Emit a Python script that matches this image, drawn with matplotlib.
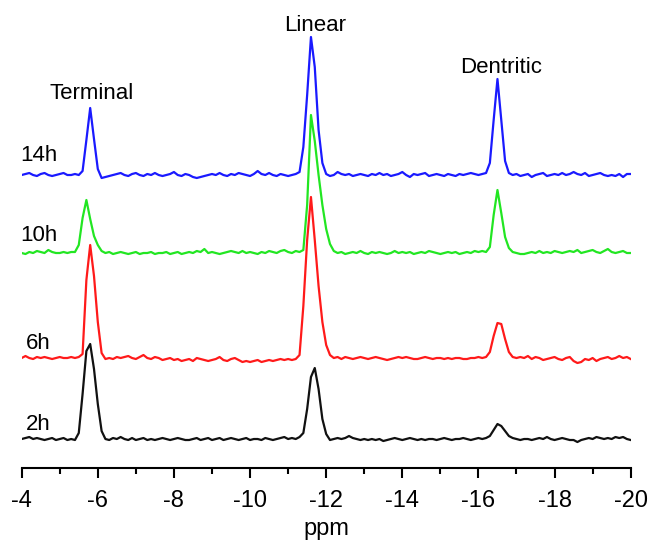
import numpy as np
import matplotlib
matplotlib.use("Agg")
import matplotlib.pyplot as plt
from matplotlib.ticker import MultipleLocator

plt.rcParams['font.family'] = ['Liberation Sans', 'DejaVu Sans']
plt.rcParams['axes.unicode_minus'] = False

# chemical shift grid, 0.1 ppm steps from -4 to -20
ppm = np.linspace(-4.0, -20.0, 161)

# intensities (a.u.), one row per ppm unit
int_14h = [
    0, 1, 2, 0, -1, 1, 2, 0, -1, 0,
    1, 2, 0, 0, 1, 0, 4, 35, 67, 36,
    6, -3, -2, -1, 0, 1, 2, 0, -1, 1,
    2, 0, -1, 1, 0, 2, 0, -1, 0, 1,
    3, 0, -1, 1, 0, -2, -3, -2, -1, 0,
    1, 0, 2, 0, -1, 1, 0, 2, 1, 0,
    -1, 1, 4, 1, 0, 2, 0, -1, 1, 0,
    -1, 0, 1, 3, 28, 80, 138, 108, 45, 12,
    1, -1, 0, 3, 1, 0, 1, -1, 0, 1,
    0, -1, 1, 0, 2, 0, 1, -1, 0, 1,
    3, 0, -2, 1, 0, 1, 2, -1, 0, 1,
    0, -1, 1, 0, -1, 1, 0, 1, 2, 1,
    0, 1, 2, 12, 55, 96, 55, 14, 2, 0,
    1, -1, 0, 1, -2, 0, 1, 2, -1, 0,
    1, 0, 2, 0, 1, 3, 1, 0, 2, -1,
    0, 1, 2, 0, -1, 0, -1, 1, -2, 1,
    1]

int_10h = [
    0, -1, 1, 0, 2, 1, 0, 3, 1, 0,
    0, 1, 0, 1, 1, 8, 35, 53, 34, 17,
    8, 2, 0, 1, -1, 0, 1, 0, -1, 0,
    1, -1, 0, 0, 1, -1, 0, 0, 1, -1,
    0, 1, -1, 0, 1, 0, 2, 1, 4, 0,
    1, 0, -1, 0, 1, 2, 1, 0, 2, 0,
    1, 0, -1, 1, 0, 2, 1, 0, 2, 3,
    1, 0, 2, 1, 3, 48, 138, 112, 78, 48,
    24, 9, 2, 0, 1, -1, 0, 1, 0, 2,
    0, -1, 1, 0, 1, 0, -1, 0, 2, 0,
    1, 0, 1, -1, 0, 1, 0, 2, 1, 0,
    -1, 0, 1, 0, 1, -1, 0, 1, 0, 2,
    1, 2, 1, 6, 38, 63, 40, 16, 5, 1,
    0, -1, -1, 0, 1, 0, 2, 0, 1, 0,
    2, 1, 0, 1, 2, 1, 3, 0, 1, 2,
    3, 1, 0, 2, 4, 1, 0, 1, 2, 0,
    0]

int_6h = [
    0, 2, 0, -1, 1, 0, 1, 0, -1, 0,
    1, 0, 0, 1, 0, 1, 4, 78, 113, 82,
    36, 5, -1, 0, -1, 1, 0, 1, 2, 0,
    -1, 1, 3, 0, -1, 1, 0, -2, -1, 0,
    -2, -1, -3, -2, -1, -3, 0, -1, -2, -3,
    -2, -1, 1, -2, -3, -1, 0, -2, -4, -3,
    -4, -3, -2, -4, -3, -2, -3, -2, -1, -2,
    -1, -2, -1, 3, 52, 118, 161, 118, 72, 36,
    13, 3, 0, 1, -1, 1, 0, -1, 0, 1,
    0, -1, 0, 1, 0, -1, -2, -1, 0, 1,
    0, 1, 0, -1, -1, 0, 1, 0, -1, 0,
    0, -1, 0, -1, 0, 0, -1, -1, 0, 0,
    1, 0, 1, 6, 22, 35, 34, 19, 6, 1,
    0, 1, 0, 2, -1, 1, 0, -2, -1, 0,
    1, -1, -2, 0, 1, -3, -5, -4, -1, -2,
    0, -3, -1, 0, 1, -1, 0, 2, 0, 1,
    -1]

int_2h = [
    0, 1, 2, 0, 1, 0, -1, 0, 1, -1,
    0, 1, -1, 0, -1, 6, 45, 88, 95, 70,
    35, 8, 0, -1, 1, 0, 2, 0, -1, 1,
    -1, 0, 1, -1, 0, -1, 0, 1, 0, -1,
    0, 1, 0, -1, -1, 0, 1, -1, 0, 1,
    -1, 0, 1, -1, 0, 1, 0, -1, 0, 1,
    -1, 0, 0, -1, 1, 0, -1, 0, 1, 2,
    0, 1, 0, 2, 6, 30, 62, 71, 50, 20,
    5, -1, 0, 1, 0, 1, 3, 1, 0, -1,
    0, -1, 0, -1, 0, -2, -1, 0, 1, 0,
    -1, 0, 1, 0, -1, 0, -1, 0, 0, -1,
    0, 1, 0, -1, 0, 0, 1, 0, -1, 0,
    1, 0, 1, 3, 9, 15, 13, 8, 3, 1,
    0, -1, 0, 0, -1, 0, 1, 0, 2, 0,
    -1, 0, 1, 0, -1, -1, -3, -1, 0, 1,
    0, 2, 1, 0, 1, 0, 2, 1, 2, 0,
    -1]

times = ["14h", "10h", "6h", "2h"]
spectra = [int_14h, int_10h, int_6h, int_2h]
offsets = [264, 186, 81, 0]
colors = ["#1a1aff", "#22e622", "#ff1a1a", "#111111"]

peak_names = ["Terminal", "Linear", "Dentritic"]


def main():
    fig = plt.figure(figsize=(6.51, 5.43), dpi=100)
    ax = fig.add_axes([0.0333, 0.1381, 0.9355, 0.8619])

    for y, off, c in zip(spectra, offsets, colors):
        ax.plot(ppm, np.array(y) + off, color=c, lw=1.6)

    # sample-time labels on the left
    lab_pos = [(-3.95, 284), (-3.95, 204), (-4.1, 96), (-4.1, 15)]
    for t, (x, y) in zip(times, lab_pos):
        ax.text(x, y, t, fontsize=16, ha="left", va="center")

    # peak assignments
    name_pos = [(-5.85, 346), (-11.7, 414), (-16.6, 372)]
    for n, (x, y) in zip(peak_names, name_pos):
        ax.text(x, y, n, fontsize=16, ha="center", va="center")

    ax.set_xlim(-4, -20)
    ax.set_ylim(-29, 439)
    for s in ["left", "right", "top"]:
        ax.spines[s].set_visible(False)
    ax.spines["bottom"].set_linewidth(1.5)
    ax.set_yticks([])
    ax.xaxis.set_major_locator(MultipleLocator(2))
    ax.xaxis.set_minor_locator(MultipleLocator(1))
    ax.tick_params(axis="x", which="major", length=7, width=1.5,
                   labelsize=17, pad=9)
    ax.tick_params(axis="x", which="minor", length=4, width=1.5)
    ax.set_xlabel("ppm", fontsize=17, labelpad=4)

    fig.savefig("out.png", dpi=100)


if __name__ == '__main__':
    main()
